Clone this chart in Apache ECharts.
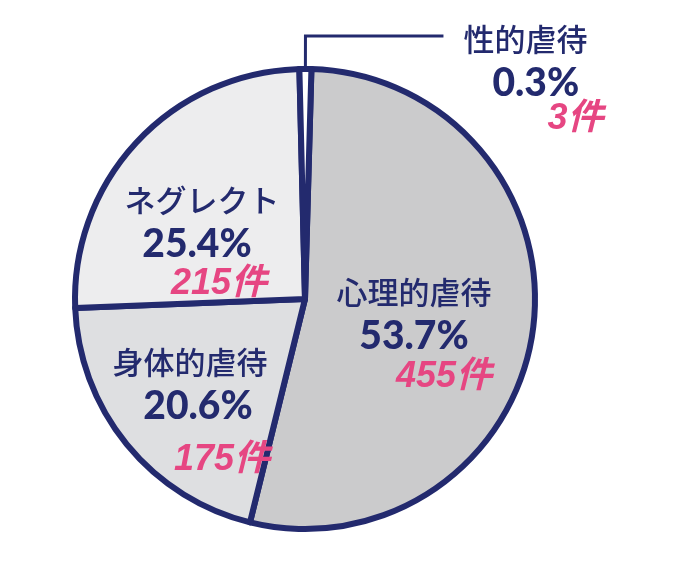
<!DOCTYPE html>
<html>
<head>
<meta charset="utf-8">
<script src="https://cdn.jsdelivr.net/npm/echarts@6/dist/echarts.min.js"></script>
<style>html,body{margin:0;padding:0;background:#fff}#c{width:680px;height:562px}</style>
</head>
<body>
<div id="c"></div>
<script>
// ---- data ----
const categories = ['心理的虐待', '身体的虐待', 'ネグレクト', '性的虐待'];
const percents = [53.7, 20.6, 25.4, 0.3];
const counts = [455, 175, 215, 3];

// ---- layout / style (not data) ----
const NAVY = '#232a6e';
const PINK = '#e64682';
const fills = ['#cbcbcc', '#dedfe1', '#ededee', '#ffffff'];
// inside label block centres and horizontal shifts of pct / count lines
const labelCenter = [[414, 333], [190, 416], [202, 240], null];
const lineShift = [[0, 30], [8, 32], [-5, 17], null];
const countLineH = [38, 64, 36, 28];

const chart = echarts.init(document.getElementById('c'), null, {renderer: 'canvas'});

function richFor(i, outside) {
  const base = {
    n: {fontFamily: '"Noto Sans CJK JP", sans-serif', fontWeight: 500, fontSize: 31, color: NAVY, lineHeight: 44},
    p: {fontFamily: 'Lato, "Noto Sans", sans-serif', fontWeight: 900, fontSize: 39, color: NAVY, lineHeight: 44},
    c: {fontFamily: '"Liberation Sans", "Noto Sans CJK JP", sans-serif', fontWeight: 'bold', fontStyle: 'italic', fontSize: 36, color: PINK, lineHeight: countLineH[i]}
  };
  if (outside) {
    base.n.align = 'left';
    base.p.align = 'left'; base.p.padding = [0, 0, 0, 29];
    base.c.align = 'left'; base.c.padding = [0, 0, 0, 84];
  } else {
    const s = lineShift[i];
    base.p.padding = s[0] >= 0 ? [0, 0, 0, 2 * s[0]] : [0, -2 * s[0], 0, 0];
    base.c.padding = s[1] >= 0 ? [0, 0, 0, 2 * s[1]] : [0, -2 * s[1], 0, 0];
  }
  return base;
}

const seriesData = categories.map((name, i) => {
  const outside = labelCenter[i] === null;
  return {
    name: name,
    value: counts[i],
    itemStyle: {color: fills[i]},
    label: outside ? {
      position: 'outside',
      padding: [78, 0, 0, 0],
      rich: richFor(i, true)
    } : {
      position: 'inside',
      rich: richFor(i, false)
    },
    labelLine: {show: outside}
  };
});

chart.setOption({
  animation: false,
  backgroundColor: '#ffffff',
  series: [{
    type: 'pie',
    center: [305, 299],
    radius: 230,
    startAngle: 88.4,
    minAngle: 3,
    clockwise: true,
    avoidLabelOverlap: false,
    emphasis: {disabled: true},
    silent: true,
    itemStyle: {borderColor: NAVY, borderWidth: 6},
    label: {
      show: true,
      overflow: 'none',
      distanceToLabelLine: 20,
      formatter: function (p) {
        const i = p.dataIndex;
        return '{n|' + categories[i] + '}\n{p|' + percents[i].toFixed(1) + '%}\n{c|' + counts[i] + '件}';
      }
    },
    labelLine: {
      length: 33,
      length2: 138,
      smooth: false,
      lineStyle: {color: NAVY, width: 3}
    },
    labelLayout: function (params) {
      const c = labelCenter[params.dataIndex];
      if (!c) return {};
      return {x: c[0], y: c[1], align: 'center', verticalAlign: 'middle'};
    },
    data: seriesData
  }]
});
</script>
</body>
</html>
